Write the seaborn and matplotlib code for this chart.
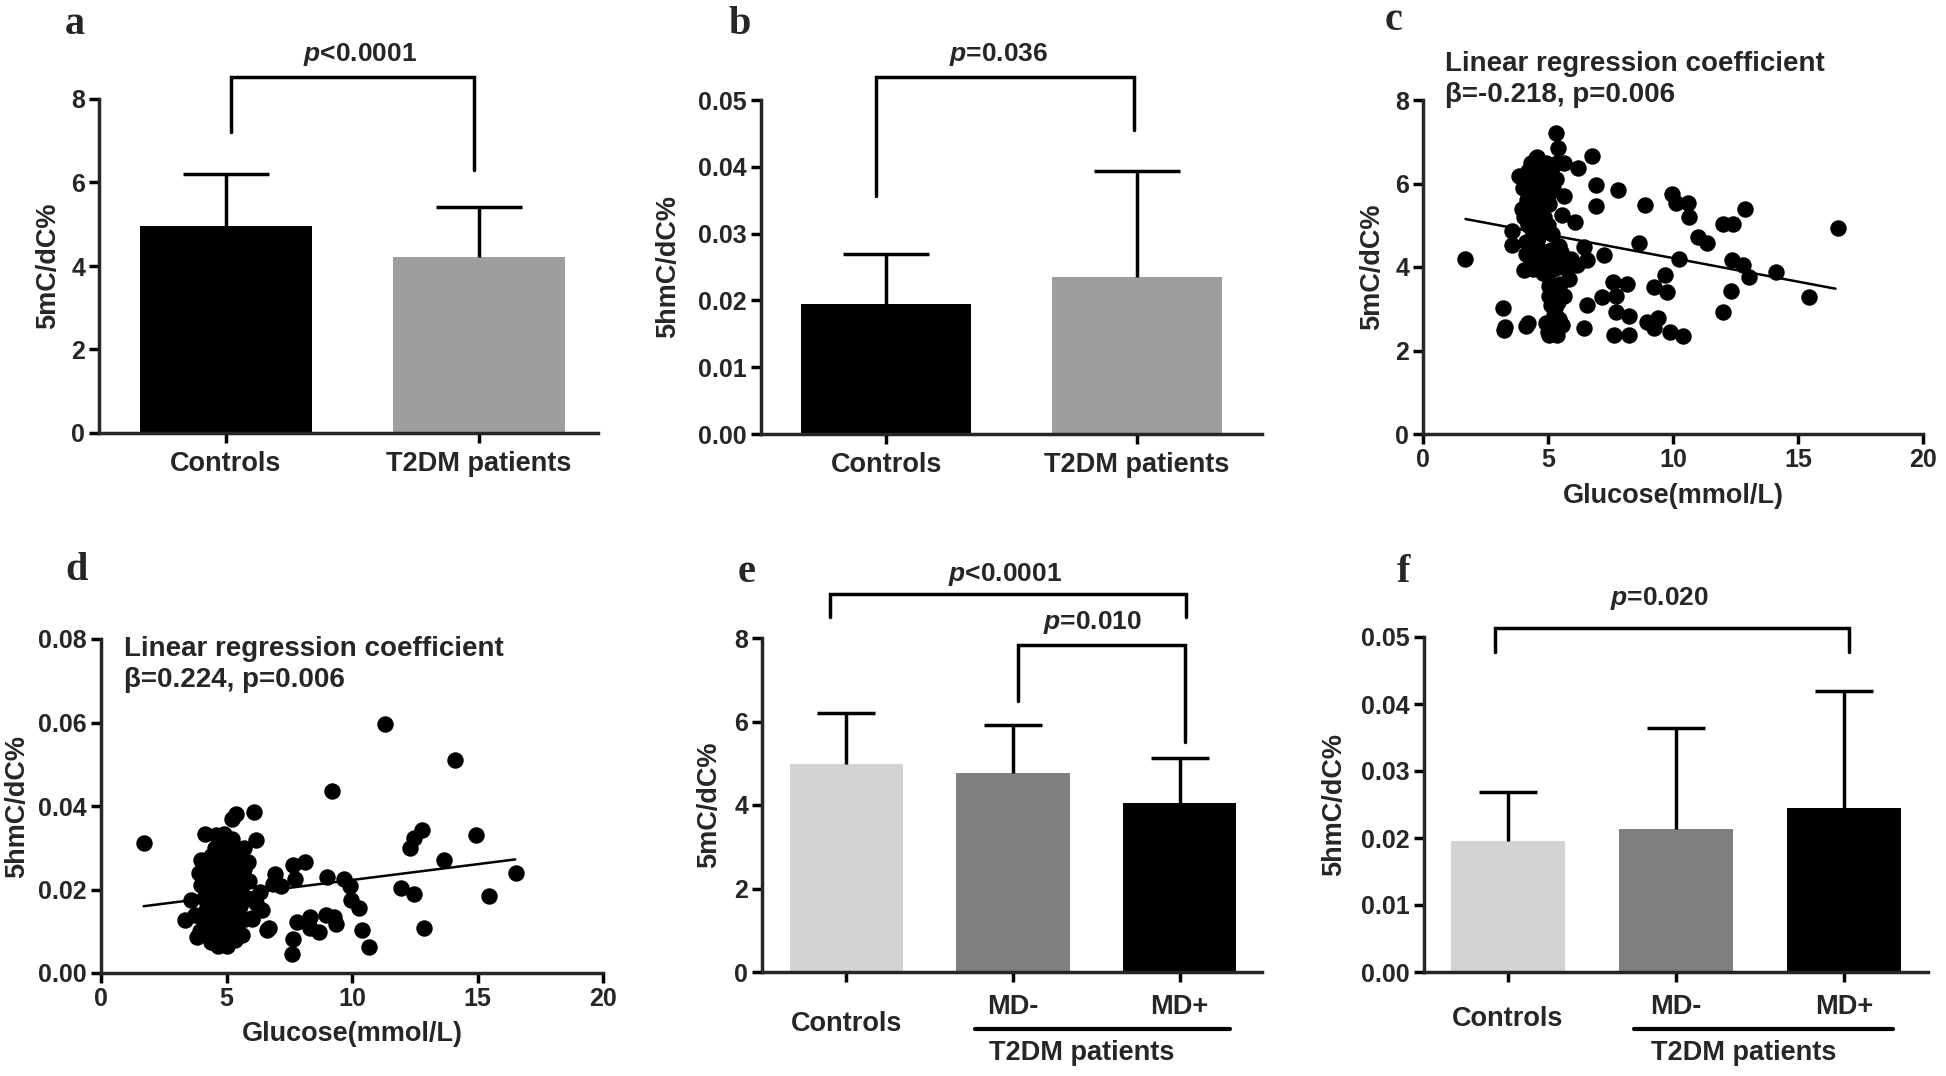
import matplotlib
matplotlib.use('Agg')
import matplotlib.pyplot as plt
import numpy as np
import seaborn as sns

# ---- data ----
cats_two = ['Controls', 'T2DM patients']
cats_three = ['Controls', 'MD-', 'MD+']

mc_mean = [4.95, 4.22]          # panel a, 5mC/dC%
mc_sd = [1.25, 1.20]
hmc_mean = [0.0194, 0.0235]     # panel b, 5hmC/dC%
hmc_sd = [0.0075, 0.0159]
mc_md_mean = [4.98, 4.76, 4.05]     # panel e
mc_md_sd = [1.23, 1.15, 1.08]
hmc_md_mean = [0.0196, 0.0214, 0.0245]  # panel f
hmc_md_sd = [0.0073, 0.0150, 0.0174]

# panel c: glucose vs 5mC
glu_c = [1.69, 3.18, 3.22, 3.27, 3.54, 3.54, 3.83, 4.02, 4.12, 4.19, 4.55, 4.9, 5.05, 5.31, 5.39,
         5.05, 5.27, 5.34, 5.56, 5.63, 5.63, 5.56, 5.63, 5.49, 5.85, 6.06, 6.21, 6.14, 6.43, 6.43,
         6.57, 6.57, 6.76, 6.9, 6.93, 7.25, 7.15, 7.58, 7.65, 7.73, 7.73, 7.8, 8.16, 8.23, 8.23,
         8.64, 8.88, 8.95, 9.24, 9.24, 9.38, 9.67, 9.74, 9.89, 9.94, 10.1, 10.22, 10.4, 10.61, 10.64,
         11.0, 11.34, 11.99, 11.99, 12.39, 12.35, 12.3, 12.78, 12.88, 13.03, 14.11, 15.45, 16.6,
         3.95, 4.0, 4.05, 4.1, 4.15, 4.2, 4.2, 4.25, 4.3, 4.3, 4.35, 4.4, 4.4, 4.45, 4.5, 4.5, 4.55,
         4.6, 4.6, 4.65, 4.7, 4.7, 4.75, 4.8, 4.85, 4.85, 4.9, 4.95, 5.0, 5.0, 5.05, 5.1, 5.15, 5.2,
         5.3, 5.35, 4.1, 4.25,
         4.3, 4.5, 4.7, 4.9, 4.6, 4.4, 5.0, 4.8, 4.2, 4.6,
         4.1, 4.3, 4.4, 4.5, 4.6, 4.7, 4.8, 4.9, 5.0, 5.1, 5.2, 5.3, 5.4, 5.5, 5.6, 5.75, 5.9, 4.95, 5.45,
         5.05, 5.2, 5.1, 5.25, 5.15, 5.0, 5.35, 5.45, 5.4]
mc_c = [4.2, 3.02, 2.49, 2.57, 4.87, 4.53, 6.19, 3.93, 2.58, 2.65, 6.64, 2.65, 2.36, 7.22, 6.86,
        3.31, 3.02, 2.36, 2.61, 6.48, 5.7, 5.24, 3.31, 3.6, 3.72, 5.08, 6.38, 4.05, 4.48, 2.53,
        4.16, 3.09, 6.67, 5.96, 5.45, 4.28, 3.27, 3.64, 2.36, 2.92, 3.31, 5.84, 3.6, 2.83, 2.36,
        4.58, 5.49, 2.69, 3.51, 2.55, 2.77, 3.8, 3.39, 2.44, 5.74, 5.53, 4.2, 2.34, 5.53, 5.2,
        4.71, 4.58, 2.92, 5.02, 5.02, 4.17, 3.43, 4.05, 5.39, 3.76, 3.88, 3.27, 4.94,
        5.4, 5.9, 5.2, 6.0, 5.6, 6.3, 5.0, 5.8, 6.5, 5.3, 6.1, 5.7, 4.8, 6.4, 5.5, 6.0, 5.1,
        6.3, 5.8, 5.4, 6.5, 4.9, 6.0, 5.6, 6.2, 5.2, 6.5, 5.8, 5.0, 6.1, 5.5, 6.3, 4.8, 5.9,
        6.1, 6.5, 4.6, 4.4,
        5.9, 6.6, 5.3, 5.5, 5.0, 6.2, 5.7, 6.4, 5.5, 4.7,
        4.3, 4.1, 3.95, 4.2, 4.45, 4.0, 3.85, 4.3, 4.1, 4.4, 3.95, 4.2, 4.0, 4.35, 4.1, 3.95, 4.2, 3.8, 4.5,
        3.55, 3.4, 3.1, 2.85, 2.6, 2.45, 2.55, 2.75, 3.15]
fit_c_x = [1.7, 16.5]
fit_c_y = [5.15, 3.48]

# panel d: glucose vs 5hmC
glu_d = [1.71, 11.32, 14.09, 9.2, 6.11, 5.37, 5.2, 4.15, 6.19, 5.7, 4.89, 5.86, 7.65, 8.14, 7.72,
         6.92, 7.17, 6.84, 6.35, 6.19, 6.43, 6.6, 6.71, 6.03, 7.65, 7.62, 7.82, 8.31, 8.31, 8.68,
         8.96, 9.28, 9.36, 8.99, 9.69, 9.93, 9.97, 10.26, 10.39, 10.67, 11.97, 12.46, 12.3, 12.46,
         12.79, 12.87, 13.68, 14.95, 15.47, 16.53, 3.34, 3.58, 3.75, 3.83,
         3.9, 4.0, 4.0, 4.1, 4.1, 4.2, 4.2, 4.25, 4.3, 4.3, 4.35, 4.4, 4.4, 4.45, 4.5, 4.5, 4.55,
         4.6, 4.6, 4.65, 4.7, 4.7, 4.75, 4.8, 4.8, 4.85, 4.9, 4.9, 4.95, 5.0, 5.0, 5.05, 5.1, 5.1,
         5.15, 5.2, 5.25, 5.3, 5.35, 5.4, 5.45, 5.5, 5.55, 5.6, 5.7, 5.75, 5.8, 5.9, 6.0, 4.6, 5.2,
         3.95, 4.75, 4.35,
         4.4, 4.6, 4.9, 5.2, 4.7, 5.0, 4.5, 5.3, 4.8, 5.6]
hmc_d = [0.0312, 0.0597, 0.051, 0.0437, 0.0386, 0.0382, 0.0369, 0.0334, 0.0318, 0.030, 0.0332,
         0.0267, 0.0258, 0.0267, 0.0226, 0.0238, 0.0209, 0.0213, 0.0193, 0.0168, 0.0152, 0.0103,
         0.0108, 0.0131, 0.0082, 0.0045, 0.0123, 0.0135, 0.0107, 0.0098, 0.0139, 0.0135, 0.0117,
         0.023, 0.0226, 0.0209, 0.0176, 0.0156, 0.0103, 0.0062, 0.0203, 0.0189, 0.030, 0.0324,
         0.0342, 0.0108, 0.0271, 0.0331, 0.0185, 0.024, 0.0127, 0.0176, 0.0139, 0.0086,
         0.024, 0.027, 0.021, 0.018, 0.012, 0.026, 0.015, 0.009, 0.022, 0.019, 0.013, 0.028, 0.0075,
         0.024, 0.017, 0.011, 0.030, 0.021, 0.014, 0.0065, 0.032, 0.026, 0.018, 0.009, 0.023, 0.015,
         0.029, 0.012, 0.020, 0.0065, 0.025, 0.017, 0.031, 0.010, 0.022, 0.014, 0.027, 0.019, 0.008,
         0.024, 0.012, 0.029, 0.016, 0.021, 0.025, 0.013, 0.018, 0.022, 0.013, 0.033, 0.032,
         0.010, 0.012, 0.017,
         0.020, 0.010, 0.016, 0.018, 0.022, 0.013, 0.008, 0.024, 0.027, 0.009]
fit_d_x = [1.7, 16.5]
fit_d_y = [0.016, 0.0272]

two_colors = ['#000000', '#9e9e9e']
three_colors = ['#d3d3d3', '#7f7f7f', '#000000']

# ---- style ----
sns.set_style('ticks')
plt.rcParams['font.family'] = ['Liberation Sans', 'DejaVu Sans']
plt.rcParams['font.weight'] = 'bold'
plt.rcParams['axes.labelweight'] = 'bold'
plt.rcParams['mathtext.fontset'] = 'custom'
plt.rcParams['mathtext.it'] = 'Liberation Sans:italic:bold'
plt.rcParams['mathtext.rm'] = 'Liberation Sans:bold'
plt.rcParams['mathtext.bf'] = 'Liberation Sans:bold'

LW = 2.5        # axis / bracket line width
TICK_FS = 18
LABEL_FS = 19.5
CAT_FS = 19.5
P_FS = 19

W, H = 1946, 1076
fig = plt.figure(figsize=(W / 100, H / 100), dpi=100)


def px_axes(x0, y0, x1, y1):
    return fig.add_axes([x0 / W, 1 - y1 / H, (x1 - x0) / W, (y1 - y0) / H])


def style_axes(ax, ylim, yticks, yfmt):
    sns.despine(ax=ax)
    for side in ['left', 'bottom']:
        ax.spines[side].set_linewidth(LW)
    ax.set_ylim(*ylim)
    ax.set_yticks(yticks)
    ax.set_yticklabels([yfmt.format(v) for v in yticks])
    ax.tick_params(axis='both', direction='out', width=LW, length=7,
                   labelsize=TICK_FS, pad=3, color='black')


def bar_panel(ax, cats, means, sds, colors, cap):
    sns.barplot(x=cats, y=means, hue=cats, palette=colors, saturation=1,
                width=0.68, errorbar=None, legend=False, linewidth=0, ax=ax)
    xs = np.arange(len(cats))
    tops = np.array(means) + np.array(sds)
    ax.vlines(xs, means, tops, color='black', lw=LW, zorder=3)
    ax.plot(xs, tops, ls='none', marker='_', markersize=cap, mew=LW,
            color='black', zorder=3)
    ax.set_xlabel('')


def bracket(ax, x1, x2, y, y1, y2, label, tx, ty):
    ax.plot([x1, x1, x2, x2], [y1, y, y, y2], color='black', lw=LW,
            clip_on=False, solid_joinstyle='miter')
    ax.text(tx, ty, label, ha='center', va='center', fontsize=P_FS,
            fontweight='bold', clip_on=False)


def group_labels(ax, ctrl_y, md_y, line_y, grp_y, line_x, grp_x):
    tr = ax.get_xaxis_transform()
    ax.set_xticks([0, 1, 2])
    ax.set_xticklabels(['', '', ''])
    ax.text(0, ctrl_y, 'Controls', transform=tr, ha='center', va='center', fontsize=CAT_FS)
    ax.text(1, md_y, 'MD-', transform=tr, ha='center', va='center', fontsize=CAT_FS)
    ax.text(2, md_y, 'MD+', transform=tr, ha='center', va='center', fontsize=CAT_FS)
    ax.plot(line_x, [line_y, line_y], transform=tr, color='black', lw=3, clip_on=False)
    ax.text(grp_x, grp_y, 'T2DM patients', transform=tr, ha='center', va='center', fontsize=CAT_FS)


def scatter_panel(ax, gx, gy, fx, fy):
    sns.scatterplot(x=gx, y=gy, color='black', s=140, linewidth=0, ax=ax, zorder=3)
    sns.lineplot(x=fx, y=fy, color='black', lw=1.8, ax=ax, zorder=2)
    ax.set_xlim(0, 20)
    ax.set_xticks([0, 5, 10, 15, 20])


# a
ax_a = px_axes(99, 99, 598, 433)
bar_panel(ax_a, cats_two, mc_mean, mc_sd, two_colors, 62)
ax_a.set_xlim(-0.5, 1.47)
style_axes(ax_a, (0, 8), [0, 2, 4, 6, 8], '{:.0f}')
ax_a.tick_params(axis='x', labelsize=CAT_FS, pad=6)
ax_a.set_ylabel('5mC/dC%', fontsize=LABEL_FS)
ax_a.yaxis.set_label_coords(-0.076, 0.5)
bracket(ax_a, 0.02, 0.98, 8.52, 7.21, 6.3, r'$p$<0.0001', 0.53, 9.06)

# b
ax_b = px_axes(761, 100, 1262, 434)
bar_panel(ax_b, cats_two, hmc_mean, hmc_sd, two_colors, 62)
ax_b.set_xlim(-0.5, 1.5)
style_axes(ax_b, (0, 0.05), [0, 0.01, 0.02, 0.03, 0.04, 0.05], '{:.2f}')
ax_b.tick_params(axis='x', labelsize=CAT_FS, pad=6)
ax_b.set_ylabel('5hmC/dC%', fontsize=LABEL_FS)
ax_b.yaxis.set_label_coords(-0.16, 0.5)
bracket(ax_b, -0.04, 0.99, 0.0534, 0.0356, 0.0455, r'$p$=0.036', 0.45, 0.0568)

# c
ax_c = px_axes(1423, 100, 1923, 434)
scatter_panel(ax_c, glu_c, mc_c, fit_c_x, fit_c_y)
style_axes(ax_c, (0, 8), [0, 2, 4, 6, 8], '{:.0f}')
ax_c.set_ylabel('5mC/dC%', fontsize=LABEL_FS)
ax_c.yaxis.set_label_coords(-0.076, 0.5)
ax_c.set_xlabel('Glucose(mmol/L)', fontsize=LABEL_FS)
ax_c.xaxis.set_label_coords(0.5, -0.147)
ax_c.text(0.87, 8.87, 'Linear regression coefficient', fontsize=20, va='center', clip_on=False)
ax_c.text(0.87, 8.12, 'β=-0.218, p=0.006', fontsize=20, va='center', clip_on=False)

# d
ax_d = px_axes(101, 639, 603, 973)
scatter_panel(ax_d, glu_d, hmc_d, fit_d_x, fit_d_y)
style_axes(ax_d, (0, 0.08), [0, 0.02, 0.04, 0.06, 0.08], '{:.2f}')
ax_d.set_ylabel('5hmC/dC%', fontsize=LABEL_FS)
ax_d.yaxis.set_label_coords(-0.141, 0.5)
ax_d.set_xlabel('Glucose(mmol/L)', fontsize=LABEL_FS)
ax_d.xaxis.set_label_coords(0.5, -0.144)
ax_d.text(0.92, 0.0776, 'Linear regression coefficient', fontsize=20, va='center')
ax_d.text(0.92, 0.0702, 'β=0.224, p=0.006', fontsize=20, va='center')

# e
ax_e = px_axes(762, 638, 1262, 972)
bar_panel(ax_e, cats_three, mc_md_mean, mc_md_sd, three_colors, 42)
ax_e.set_xlim(-0.506, 2.495)
style_axes(ax_e, (0, 8), [0, 2, 4, 6, 8], '{:.0f}')
ax_e.set_ylabel('5mC/dC%', fontsize=LABEL_FS)
ax_e.yaxis.set_label_coords(-0.08, 0.5)
group_labels(ax_e, -0.157, -0.105, -0.172, -0.244, [0.77, 2.30], 1.41)
bracket(ax_e, -0.1, 2.04, 9.05, 8.51, 8.51, r'$p$<0.0001', 0.95, 9.52)
bracket(ax_e, 1.03, 2.03, 7.83, 6.48, 5.5, r'$p$=0.010', 1.48, 8.37)

# f
ax_f = px_axes(1424, 637, 1928, 972)
bar_panel(ax_f, cats_three, hmc_md_mean, hmc_md_sd, three_colors, 42)
ax_f.set_xlim(-0.5, 2.5)
style_axes(ax_f, (0, 0.05), [0, 0.01, 0.02, 0.03, 0.04, 0.05], '{:.2f}')
ax_f.set_ylabel('5hmC/dC%', fontsize=LABEL_FS)
ax_f.yaxis.set_label_coords(-0.152, 0.5)
group_labels(ax_f, -0.141, -0.105, -0.171, -0.243, [0.75, 2.29], 1.40)
bracket(ax_f, -0.08, 2.03, 0.0514, 0.0477, 0.0477, r'$p$=0.020', 0.9, 0.0557)

# panel letters
for letter, (x, y) in zip('abcdef', [(75, 24), (740, 24), (1394, 21),
                                     (77, 571), (747, 572), (1403, 572)]):
    fig.text(x / W, 1 - y / H, letter, family='Liberation Serif', fontsize=29,
             fontweight='bold', ha='center', va='center')

fig.savefig('out.png', dpi=100)
